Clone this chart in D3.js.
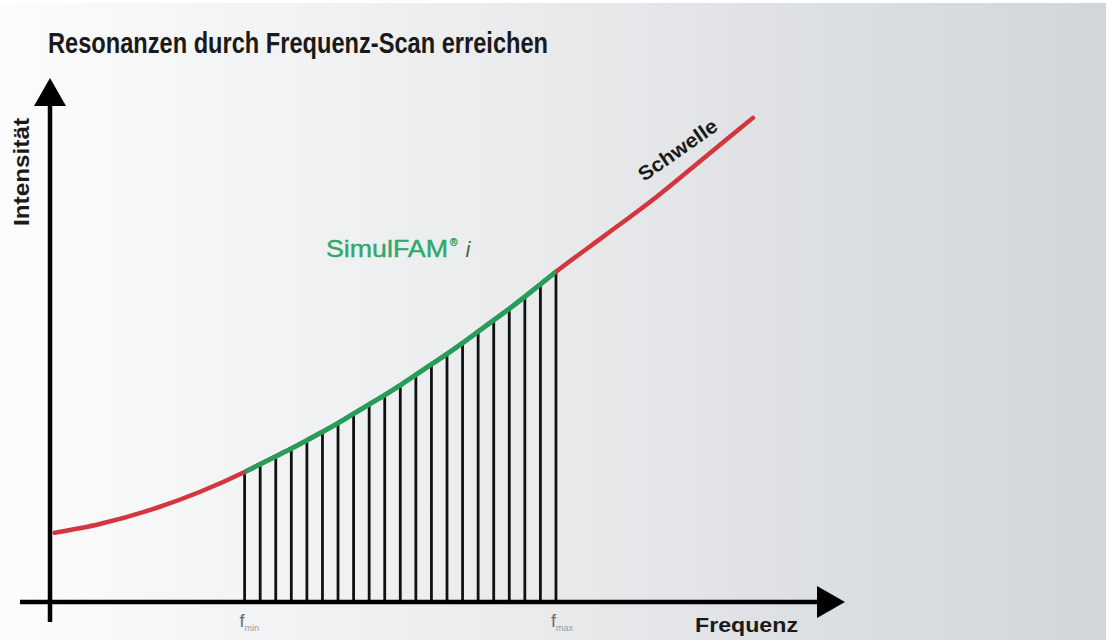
<!DOCTYPE html>
<html>
<head>
<meta charset="utf-8">
<script src="https://cdn.jsdelivr.net/npm/d3@7"></script>
<style>
  body { margin: 0; background: #fff; }
  svg { display: block; }
</style>
</head>
<body>
<div class="chart"></div>
<script>
// threshold curve (Schwelle), arbitrary units
var curveFreq = [-4.4, 1.4, 7.9, 14.3, 66.3, 72.9, 79.1, 85.3];
var curveIntensity = [13.3, 15.0, 17.7, 21.2, 70.5, 77.9, 85.5, 93.1];

// SimulFAM scan frequencies between f_min and f_max
var scanFreq = [20, 22, 24, 26, 28, 30, 32, 34, 36, 38, 40, 42, 44, 46, 48, 50, 52, 54, 56, 58, 60];
var scanIntensity = [25.0, 26.5, 28.0, 29.5, 31.1, 32.7, 34.4, 36.2, 38.0, 39.8, 41.7, 43.7,
    45.7, 47.7, 49.8, 52.0, 54.2, 56.4, 58.7, 61.1, 63.5];

var freqLabels = ["min", "max"];

var svgWidth = 1109;
var svgHeight = 640;
var font = "Liberation Sans, Arial, sans-serif";

var svg = d3.select(".chart").append("svg")
    .attr("width", svgWidth)
    .attr("height", svgHeight);

//background gradient, white on the left to grey on the right
var defs = svg.append("defs");
var grad = defs.append("linearGradient")
    .attr("id", "bg")
    .attr("x1", "0%").attr("x2", "100%")
    .attr("y1", "0%").attr("y2", "0%");
grad.append("stop").attr("offset", "0%").attr("stop-color", "#fcfcfc");
grad.append("stop").attr("offset", "30%").attr("stop-color", "#f0f1f2");
grad.append("stop").attr("offset", "55%").attr("stop-color", "#e6e8ea");
grad.append("stop").attr("offset", "75%").attr("stop-color", "#dcdfe2");
grad.append("stop").attr("offset", "100%").attr("stop-color", "#d2d6d9");

svg.append("rect")
    .attr("x", 0).attr("y", 3)
    .attr("width", 1106).attr("height", svgHeight - 3)
    .attr("fill", "url(#bg)");

//scales
var xScale = d3.scaleLinear().domain([-5, 97]).range([50, 844]);
var yScale = d3.scaleLinear().domain([0, 100]).range([602, 82]);

var scanPoints = scanFreq.map(function(f, i) { return [f, scanIntensity[i]]; });
var allPoints = curveFreq.map(function(f, i) { return [f, curveIntensity[i]]; })
    .concat(scanPoints)
    .sort(function(a, b) { return a[0] - b[0]; });

var line = d3.line()
    .x(d => xScale(d[0]))
    .y(d => yScale(d[1]))
    .curve(d3.curveMonotoneX);

//clip for the green part between f_min and f_max
defs.append("clipPath")
    .attr("id", "scanClip")
    .append("rect")
    .attr("x", xScale(scanFreq[0]))
    .attr("y", 0)
    .attr("width", xScale(scanFreq[scanFreq.length - 1]) - xScale(scanFreq[0]))
    .attr("height", svgHeight);

var g = svg.append("g");

//scan lines
g.selectAll(".scan")
    .data(scanPoints)
    .enter()
    .append("line")
    .attr("class", "scan")
    .attr("x1", d => xScale(d[0]))
    .attr("x2", d => xScale(d[0]))
    .attr("y1", yScale(0))
    .attr("y2", d => yScale(d[1]))
    .attr("stroke", "#111")
    .attr("stroke-width", 2.8);

//threshold curve in red
g.append("path")
    .datum(allPoints)
    .attr("d", line)
    .attr("fill", "none")
    .attr("stroke", "#d3363e")
    .attr("stroke-width", 4.5)
    .attr("stroke-linecap", "round");

//scanned part in green
g.append("path")
    .datum(allPoints)
    .attr("d", line)
    .attr("clip-path", "url(#scanClip)")
    .attr("fill", "none")
    .attr("stroke", "#22a05a")
    .attr("stroke-width", 4.8);

//axes with arrows
var x0 = xScale(-5);
var y0 = yScale(0);
g.append("line")
    .attr("x1", 20).attr("x2", 820)
    .attr("y1", y0).attr("y2", y0)
    .attr("stroke", "#000").attr("stroke-width", 4.5);
g.append("path")
    .attr("d", `M845,${y0} L817,${y0 - 16} L817,${y0 + 16} Z`)
    .attr("fill", "#000");
g.append("line")
    .attr("x1", x0).attr("x2", x0)
    .attr("y1", 622).attr("y2", 100)
    .attr("stroke", "#000").attr("stroke-width", 4.5);
g.append("path")
    .attr("d", `M${x0},78 L${x0 - 16},106 L${x0 + 16},106 Z`)
    .attr("fill", "#000");

//title
svg.append("text")
    .attr("x", 48)
    .attr("y", 53)
    .attr("font-family", font)
    .attr("font-weight", "bold")
    .attr("font-size", 30)
    .attr("textLength", 500)
    .attr("lengthAdjust", "spacingAndGlyphs")
    .attr("fill", "#1a1a1a")
    .text("Resonanzen durch Frequenz-Scan erreichen");

//axis labels
svg.append("text")
    .attr("transform", "translate(29, 226) rotate(-90)")
    .attr("font-family", font)
    .attr("font-weight", "bold")
    .attr("font-size", 22)
    .attr("textLength", 108)
    .attr("lengthAdjust", "spacingAndGlyphs")
    .attr("fill", "#1a1a1a")
    .text("Intensität");

svg.append("text")
    .attr("x", 695)
    .attr("y", 632)
    .attr("font-family", font)
    .attr("font-weight", "bold")
    .attr("font-size", 21)
    .attr("textLength", 103)
    .attr("lengthAdjust", "spacingAndGlyphs")
    .attr("fill", "#1a1a1a")
    .text("Frequenz");

//Schwelle label along the curve
svg.append("text")
    .attr("transform", "translate(644, 182) rotate(-35)")
    .attr("font-family", font)
    .attr("font-weight", "bold")
    .attr("font-size", 20)
    .attr("textLength", 92)
    .attr("lengthAdjust", "spacingAndGlyphs")
    .attr("fill", "#1a1a1a")
    .text("Schwelle");

//SimulFAM label
var sim = svg.append("text")
    .attr("x", 326)
    .attr("y", 257)
    .attr("font-family", font)
    .attr("font-size", 24)
    .attr("fill", "#2ea968")
    .attr("stroke", "#2ea968")
    .attr("stroke-width", 0.4);
sim.append("tspan").attr("textLength", 122).attr("lengthAdjust", "spacingAndGlyphs").text("SimulFAM");
sim.append("tspan").attr("font-size", 10).attr("dy", -11).attr("dx", 2).text("®");
sim.append("tspan").attr("font-size", 22).attr("font-style", "italic").attr("dy", 11).attr("dx", 8)
    .attr("fill", "#3c6e50").attr("stroke", "none").text("i");

//f_min / f_max under the axis
var fLabel = svg.selectAll(".flabel")
    .data([scanFreq[0], scanFreq[scanFreq.length - 1]])
    .enter()
    .append("text")
    .attr("class", "flabel")
    .attr("x", d => xScale(d) - 5)
    .attr("y", 627)
    .attr("font-family", font)
    .attr("font-size", 18)
    .attr("fill", "#6b6b6b");
fLabel.append("tspan").text("f");
fLabel.append("tspan")
    .attr("font-size", 9)
    .attr("dy", 4)
    .attr("fill", "#9a9a9a")
    .text((d, i) => freqLabels[i]);
</script>
</body>
</html>
